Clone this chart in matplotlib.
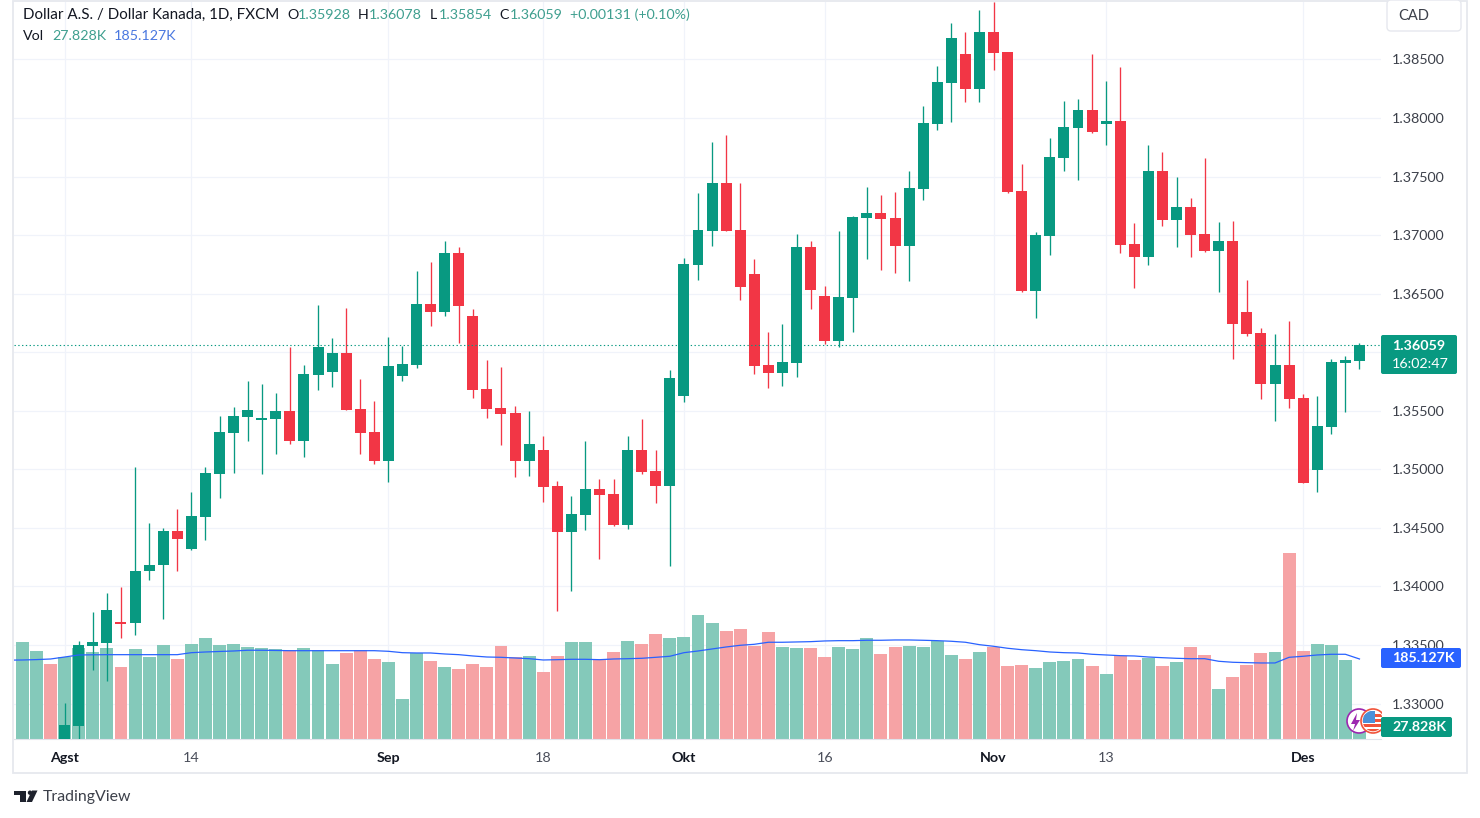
import numpy as np
import matplotlib
matplotlib.use('Agg')
import matplotlib.pyplot as plt
import matplotlib.transforms as mtransforms
from matplotlib.patches import Circle, FancyBboxPatch, Polygon, Rectangle

WIDTH, HEIGHT = 1480, 818

# daily candles, first one is 1 Aug
opens = [1.32518, 1.32811, 1.33494, 1.33519, 1.33696, 1.33685, 1.34132, 1.34183, 1.34473, 1.34320,
         1.34595, 1.34963, 1.35313, 1.35449, 1.35424, 1.35432, 1.35498, 1.35244, 1.35808, 1.35834,
         1.35993, 1.35515, 1.35319, 1.35074, 1.35800, 1.35893, 1.36412, 1.36346, 1.36847, 1.36309,
         1.35686, 1.35524, 1.35481, 1.35074, 1.35165, 1.34858, 1.34467, 1.34610, 1.34832, 1.34789,
         1.34524, 1.35165, 1.34986, 1.34858, 1.35629, 1.36745, 1.37038, 1.37445, 1.37044, 1.36668,
         1.35891, 1.35823, 1.35908, 1.36899, 1.36480, 1.36096, 1.36463, 1.37146, 1.37189, 1.37146,
         1.36907, 1.37394, 1.37949, 1.38299, 1.38547, 1.38248, 1.38735, 1.38564, 1.37377, 1.36523,
         1.36993, 1.37659, 1.37915, 1.38069, 1.37949, 1.37975, 1.36924, 1.36813, 1.37548, 1.37129,
         1.37240, 1.37010, 1.36864, 1.36950, 1.36344, 1.36164, 1.35729, 1.35891, 1.35609, 1.34994,
         1.35361, 1.35908, 1.35928]
closes = [1.32817, 1.33500, 1.33528, 1.33799, 1.33683, 1.34132, 1.34183, 1.34473, 1.34405, 1.34601,
          1.34969, 1.35319, 1.35455, 1.35507, 1.35436, 1.35498, 1.35244, 1.35814, 1.36045, 1.35993,
          1.35509, 1.35313, 1.35074, 1.35882, 1.35899, 1.36412, 1.36346, 1.36847, 1.36395, 1.35680,
          1.35515, 1.35472, 1.35074, 1.35216, 1.34852, 1.34467, 1.34618, 1.34832, 1.34781, 1.34524,
          1.35165, 1.34977, 1.34858, 1.35780, 1.36753, 1.37044, 1.37445, 1.37038, 1.36560, 1.35885,
          1.35823, 1.35917, 1.36899, 1.36531, 1.36096, 1.36472, 1.37155, 1.37189, 1.37138, 1.36907,
          1.37402, 1.37958, 1.38308, 1.38683, 1.38248, 1.38735, 1.38555, 1.37368, 1.36523, 1.37001,
          1.37667, 1.37923, 1.38069, 1.37881, 1.37975, 1.36916, 1.36813, 1.37548, 1.37129, 1.37240,
          1.37001, 1.36864, 1.36950, 1.36241, 1.36156, 1.35729, 1.35891, 1.35601, 1.34883, 1.35370,
          1.35917, 1.35934, 1.36059]
highs = [1.33007, 1.33531, 1.33782, 1.33944, 1.33995, 1.35020, 1.34544, 1.34499, 1.34661, 1.34806,
         1.35017, 1.35455, 1.35532, 1.35754, 1.35729, 1.35652, 1.36045, 1.35891, 1.36401, 1.36119,
         1.36375, 1.35771, 1.35583, 1.36127, 1.36056, 1.36691, 1.36768, 1.36947, 1.36896, 1.36367,
         1.35934, 1.35874, 1.35541, 1.35498, 1.35285, 1.34898, 1.34772, 1.35242, 1.34917, 1.34917,
         1.35285, 1.35430, 1.35165, 1.35848, 1.36805, 1.37360, 1.37795, 1.37855, 1.37445, 1.36796,
         1.36173, 1.36241, 1.37010, 1.36950, 1.36566, 1.37038, 1.37163, 1.37411, 1.37343, 1.37368,
         1.37548, 1.38103, 1.38444, 1.38812, 1.38735, 1.38923, 1.38991, 1.38564, 1.37607, 1.37027,
         1.37829, 1.38145, 1.38163, 1.38547, 1.38316, 1.38436, 1.37104, 1.37770, 1.37710, 1.37496,
         1.37317, 1.37659, 1.37112, 1.37121, 1.36617, 1.36207, 1.36156, 1.36267, 1.35643, 1.35626,
         1.35942, 1.35968, 1.36078]
lows = [1.32450, 1.32490, 1.33286, 1.33192, 1.33562, 1.33585, 1.34055, 1.33724, 1.34132, 1.34315,
        1.34396, 1.34758, 1.34971, 1.35244, 1.34963, 1.35133, 1.35214, 1.35108, 1.35680, 1.35706,
        1.35504, 1.35133, 1.35048, 1.34894, 1.35757, 1.35868, 1.36224, 1.36309, 1.36079, 1.35612,
        1.35438, 1.35210, 1.34934, 1.34943, 1.34721, 1.33790, 1.33963, 1.34484, 1.34237, 1.34520,
        1.34490, 1.34960, 1.34712, 1.34174, 1.35575, 1.36617, 1.36907, 1.37034, 1.36446, 1.35814,
        1.35694, 1.35712, 1.35788, 1.36369, 1.36073, 1.36047, 1.36173, 1.36796, 1.36702, 1.36677,
        1.36608, 1.37300, 1.37898, 1.37966, 1.38137, 1.38137, 1.38410, 1.37360, 1.36514, 1.36292,
        1.36830, 1.37548, 1.37471, 1.37872, 1.37770, 1.36847, 1.36548, 1.36745, 1.37078, 1.36899,
        1.36813, 1.36860, 1.36514, 1.35942, 1.36139, 1.35601, 1.35413, 1.35524, 1.34879, 1.34806,
        1.35302, 1.35490, 1.35854]

# volume in thousands, starts three sessions before the first visible candle
early_up = [True, True, False]
volumes = [224.5, 203.6, 173.6, 189.7, 210.6, 201.3, 210.6, 166.6, 208.3, 189.7,
           217.5, 185.1, 219.8, 233.7, 217.5, 219.8, 212.9, 210.6, 208.3, 205.9,
           210.6, 205.9, 173.6, 199.0, 205.9, 185.1, 178.2, 92.6, 199.0, 180.5,
           166.6, 162.0, 173.6, 166.6, 215.2, 189.7, 192.1, 155.0, 192.1, 224.5,
           224.5, 182.8, 201.3, 226.8, 219.8, 243.0, 233.7, 236.0, 286.9, 268.4,
           249.9, 254.5, 215.2, 247.6, 212.9, 210.6, 210.6, 189.7, 212.9, 208.3,
           233.7, 196.7, 212.9, 215.2, 212.9, 226.8, 194.4, 185.1, 201.3, 212.9,
           168.9, 171.2, 164.3, 178.2, 180.5, 185.1, 168.9, 150.4, 192.1, 182.8,
           187.4, 168.9, 178.2, 212.9, 194.4, 115.7, 143.5, 171.2, 199.0, 201.3,
           430.4, 203.6, 219.8, 217.5, 182.8, 27.828]
# the average has one more point, it comes in from the left edge of the pane
volume_ma = [182.4, 182.8, 183.7, 185.1, 189.7, 194.4, 194.8, 195.1, 195.1, 195.1, 195.1,
             195.1, 195.1, 199.7, 201.3, 202.5, 203.6, 205.3, 205.3, 204.8, 204.3,
             204.3, 204.3, 204.3, 204.3, 204.3, 204.3, 202.9, 199.7, 199.0, 199.0,
             196.7, 195.1, 192.1, 189.7, 189.0, 187.4, 185.8, 182.8, 183.5, 184.4,
             184.4, 183.5, 185.1, 185.8, 186.7, 189.0, 191.4, 199.7, 203.6, 208.3,
             212.9, 216.8, 219.1, 223.8, 223.8, 224.5, 225.2, 226.8, 227.5, 227.5,
             228.4, 228.4, 229.1, 229.1, 228.4, 227.5, 226.1, 223.8, 218.2, 214.5,
             209.9, 206.6, 204.3, 201.3, 199.7, 199.0, 196.0, 194.4, 192.8, 192.1,
             189.7, 188.1, 186.7, 185.8, 185.8, 179.8, 177.5, 176.6, 175.9, 175.9,
             189.0, 191.4, 194.4, 196.0, 196.0, 185.127]

price_ticks = [1.385, 1.38, 1.375, 1.37, 1.365, 1.36, 1.355, 1.35, 1.345, 1.34, 1.335, 1.33]
date_ticks = [0, 9, 23, 34, 44, 54, 66, 74, 88]
date_labels = ['Agst', '14', 'Sep', '18', 'Okt', '16', 'Nov', '13', 'Des']
month_labels = ['Agst', 'Sep', 'Okt', 'Nov', 'Des']

GREEN = '#089981'
RED = '#f23645'
GREEN_VOL = '#84c9ba'
RED_VOL = '#f6a3a5'
BLUE = '#2962ff'
GRID = '#f0f3fa'
BORDER = '#e6e8ee'
TEXT = '#131722'
FONT = 'Lato'

plt.rcParams['font.family'] = FONT


def fx(x):
    return x / WIDTH


def fy(y):
    return 1 - y / HEIGHT


def screen(y):
    return HEIGHT - y


def label_box(x0, y0, x1, y1, color):
    box = FancyBboxPatch((x0, screen(y1)), x1 - x0, y1 - y0, boxstyle='round,pad=0,rounding_size=2',
                         facecolor=color, edgecolor='none', transform=mtransforms.IdentityTransform(), zorder=5)
    fig.add_artist(box)


def px_patch(patch):
    patch.set_transform(mtransforms.IdentityTransform())
    patch.set_zorder(5)
    fig.add_artist(patch)
    return patch


fig = plt.figure(figsize=(WIDTH / 100, HEIGHT / 100), dpi=100, facecolor='white')
ax = fig.add_axes([fx(14), 1 - 739 / HEIGHT, (1381 - 14) / WIDTH, (739 - 2) / HEIGHT])

candle_x = np.arange(len(closes))
volume_x = np.arange(len(volumes)) - len(early_up)
ma_x = np.arange(len(volume_ma)) - len(early_up) - 1
o = np.array(opens)
c = np.array(closes)
up = c >= o
vol_up = early_up + list(up)

# volume sits on its own scale at the bottom of the price pane
vol_top = 1705
vol_trans = mtransforms.Affine2D().scale(1, 1 / vol_top) + \
    mtransforms.blended_transform_factory(ax.transData, ax.transAxes)
ax.bar(volume_x, volumes, width=0.92, color=[GREEN_VOL if u else RED_VOL for u in vol_up],
       transform=vol_trans, zorder=2, linewidth=0)
ax.plot(ma_x, volume_ma, color=BLUE, lw=0.9, transform=vol_trans, zorder=4)

colors = [GREEN if u else RED for u in up]
ax.vlines(candle_x, lows, highs, colors=colors, lw=0.95, zorder=3)
ax.bar(candle_x, np.abs(c - o), bottom=np.minimum(o, c), width=0.78, color=colors, zorder=3, linewidth=0)
ax.axhline(closes[-1], color=GREEN, lw=0.8, dashes=(1.2, 2.2), zorder=3)

ax.set_xlim(-3.602, 93.53)
ax.set_ylim(1.32697, 1.38991)
ax.yaxis.tick_right()
ax.set_yticks(price_ticks)
# the 1.36000 level has its grid line, its label is behind the last price box
ax.set_yticklabels(['' if p == 1.36 else '%.5f' % p for p in price_ticks])
ax.set_xticks(date_ticks)
ax.set_xticklabels(date_labels)
ax.tick_params(axis='y', length=0, pad=8, labelsize=10.3, labelcolor='#3c404a')
ax.tick_params(axis='x', length=0, pad=9, labelsize=10.3, labelcolor='#4a4e5a')
for tick in ax.get_xticklabels():
    if tick.get_text() in month_labels:
        tick.set_fontweight('bold')
        tick.set_color(TEXT)
ax.grid(True, color=GRID, lw=0.9)
ax.set_axisbelow(True)
for side in ['top', 'right', 'left']:
    ax.spines[side].set_visible(False)
ax.spines['bottom'].set_color('#e0e3eb')
ax.spines['bottom'].set_linewidth(0.8)

# outer frame of the widget
px_patch(Rectangle((13, screen(773)), 1454, 772, facecolor='none', edgecolor=BORDER, lw=1.3))

# price scale labels
label_box(1381, 335, 1457, 374, GREEN)
fig.text(fx(1392), fy(346), '%.5f' % closes[-1], color='white', fontsize=10.3, fontweight='bold', va='center', zorder=6)
fig.text(fx(1392), fy(364), '16:02:47', color='white', fontsize=10.3, va='center', zorder=6)
label_box(1381, 648, 1461, 668, BLUE)
fig.text(fx(1392), fy(658), '185.127K', color='white', fontsize=10.3, fontweight='bold', va='center', zorder=6)

# event icons next to the volume label
px_patch(Circle((1359, screen(721)), 12, facecolor='white', edgecolor='#9c27b0', lw=1.2))
px_patch(Polygon([(1357, screen(713)), (1351, screen(724)), (1355, screen(724)), (1353, screen(731)),
                  (1360, screen(720)), (1356, screen(720))], facecolor='#9c27b0', edgecolor='none'))
px_patch(Circle((1373, screen(721)), 12, facecolor='white', edgecolor='#f0533a', lw=1.2))
inner = Circle((1373, screen(721)), 10.3, transform=mtransforms.IdentityTransform())
for stripe_y in [714, 719, 724, 729]:
    px_patch(Rectangle((1361, screen(stripe_y + 3)), 24, 3, facecolor='#f0533a', edgecolor='none')).set_clip_path(inner)
px_patch(Rectangle((1363, screen(723)), 12, 12, facecolor='#4a90d9', edgecolor='none')).set_clip_path(inner)
px_patch(Rectangle((1382, screen(739)), 10, 30, facecolor='white', edgecolor='none'))

label_box(1381, 717, 1452, 737, GREEN)
fig.text(fx(1392), fy(727), '27.828K', color='white', fontsize=10.3, fontweight='bold', va='center', zorder=6)

# currency button
px_patch(FancyBboxPatch((1387, screen(31)), 74, 31, boxstyle='round,pad=0,rounding_size=4',
                        facecolor='white', edgecolor=BORDER, lw=1))
fig.text(fx(1398), fy(15.5), 'CAD', color='#3c404a', fontsize=10.5, va='center', zorder=6)

# legend lines over the chart
HEAD = '#3f9f8f'
fig.text(fx(23), fy(15), 'Dollar A.S. / Dollar Kanada, 1D, FXCM', color=TEXT, fontsize=10.9, va='center', zorder=6)
header = [(287, 'O', TEXT), (298, '1.35928', HEAD), (358, 'H', TEXT), (369, '1.36078', HEAD),
          (430, 'L', TEXT), (439, '1.35854', HEAD), (499, 'C', TEXT), (510, '1.36059', HEAD),
          (570, '+0.00131 (+0.10%)', HEAD)]
for x, s, col in header:
    fig.text(fx(x), fy(15), s, color=col, fontsize=10.3, va='center', zorder=6)
fig.text(fx(23), fy(35.5), 'Vol', color=TEXT, fontsize=10.3, va='center', zorder=6)
fig.text(fx(52), fy(35.5), '27.828K', color=HEAD, fontsize=10.3, va='center', zorder=6)
fig.text(fx(114), fy(35.5), '185.127K', color='#4a78e0', fontsize=10.3, va='center', zorder=6)

# footer logo
LOGO = '#1e222d'
px_patch(Polygon([(13.5, screen(790.5)), (26, screen(790.5)), (26, screen(802)), (20, screen(802)),
                  (20, screen(795)), (13.5, screen(795))], facecolor=LOGO, edgecolor='none'))
px_patch(Circle((30, screen(792.7)), 2.2, facecolor=LOGO, edgecolor='none'))
px_patch(Polygon([(32, screen(790.5)), (37.5, screen(790.5)), (32, screen(802)), (26.5, screen(802))],
                 facecolor=LOGO, edgecolor='none'))
fig.text(fx(43), fy(797), 'TradingView', color='#3c404a', fontsize=11.4, va='center', zorder=6)

fig.savefig('out.png', dpi=100, facecolor='white')
